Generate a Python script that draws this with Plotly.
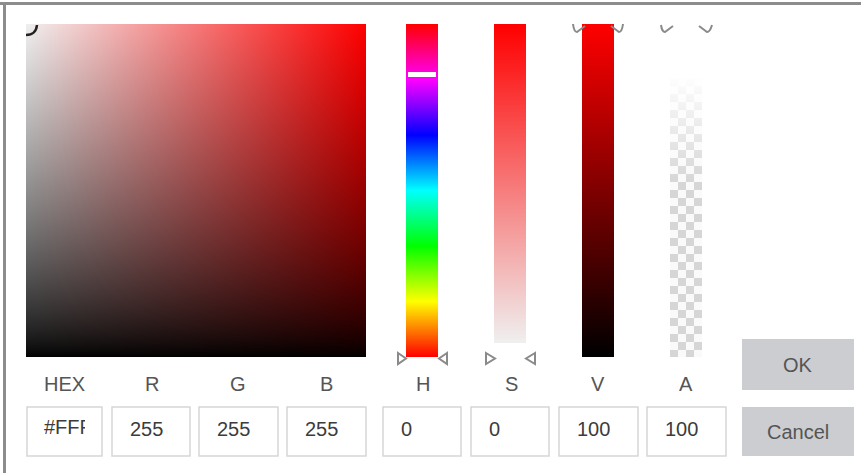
import numpy as np
import plotly.graph_objects as go

# ---------------- data ----------------
field_labels = ["HEX", "R", "G", "B", "H", "S", "V", "A"]
field_values = ["#FFFFFF", "255", "255", "255", "0", "0", "100", "100"]
button_labels = ["OK", "Cancel"]
current_hue = 0          # degrees
white_level = 240        # lightest tone shown in the gradients
value_gamma = 0.75       # brightness curve of the picker square

# ---------------- layout geometry (pixels) ----------------
W, H = 861, 473
sq = dict(x0=26, x1=366, y0=24, y1=357)
hue_bar = dict(x0=406, x1=438, y0=24, y1=357)
sat_bar = dict(x0=494, x1=526, y0=24, y1=343)
val_bar = dict(x0=582, x1=614, y0=24, y1=357)
alp_bar = dict(x0=670, x1=702, y0=78, y1=357)
label_x = [64, 152, 238, 326, 423, 511, 598, 686]
label_y = 384
box_x0 = [27, 112, 199, 287, 383, 471, 559, 647]
box_x1 = [102, 190, 278, 366, 461, 549, 638, 726]
box_y0, box_y1 = 407, 456
value_pad = 16
value_y = 429
btn_x0, btn_x1 = 742, 854
btn_y = [(339, 390), (407, 456)]
TEXT = "#555555"
FONT = "Liberation Sans, Arial, sans-serif"


def hsv_to_rgb(h, s, v):
    h = (h % 360) / 60.0
    c = v * s
    x = c * (1 - np.abs(h % 2 - 1))
    m = v - c
    z = np.zeros_like(h)
    idx = np.floor(h).astype(int) % 6
    r = np.choose(idx, [c, x, z, z, x, c])
    g = np.choose(idx, [x, c, c, x, z, z])
    b = np.choose(idx, [z, z, x, c, c, x])
    return np.stack([r + m, g + m, b + m], axis=-1)


fig = go.Figure()

# saturation / value square
nx, ny = sq["x1"] - sq["x0"], sq["y1"] - sq["y0"]
S = (np.arange(nx) + 0.5) / nx
V = (1 - (np.arange(ny) + 0.5) / ny) ** value_gamma
SS, VV = np.meshgrid(S, V)
rgb = np.zeros((ny, nx, 3))
rgb[..., 0] = VV * (255 - (255 - white_level) * (1 - SS))
rgb[..., 1] = VV * (1 - SS) * white_level
rgb[..., 2] = VV * (1 - SS) * white_level
fig.add_trace(go.Image(z=rgb.astype(np.uint8), x0=sq["x0"] + 0.5, y0=sq["y0"] + 0.5,
                       dx=1, dy=1, hoverinfo="skip"))

# hue bar
bh = hue_bar["y1"] - hue_bar["y0"]
bw = hue_bar["x1"] - hue_bar["x0"]
hues = current_hue + 360 * (1 - (np.arange(bh) + 0.5) / bh)
col = hsv_to_rgb(hues, np.ones(bh), np.ones(bh)) * 255
img = np.repeat(col[:, None, :], bw, axis=1)
fig.add_trace(go.Image(z=img.astype(np.uint8), x0=hue_bar["x0"] + 0.5, y0=hue_bar["y0"] + 0.5,
                       dx=1, dy=1, hoverinfo="skip"))

# saturation bar
bh = sat_bar["y1"] - sat_bar["y0"]
t = (np.arange(bh) + 0.5) / bh
col = np.stack([255 - t * (255 - white_level), t * white_level, t * white_level], axis=-1)
img = np.repeat(col[:, None, :], bw, axis=1)
fig.add_trace(go.Image(z=img.astype(np.uint8), x0=sat_bar["x0"] + 0.5, y0=sat_bar["y0"] + 0.5,
                       dx=1, dy=1, hoverinfo="skip"))

# value bar
bh = val_bar["y1"] - val_bar["y0"]
t = 1 - (np.arange(bh) + 0.5) / bh
col = np.stack([t * 255, t * 0, t * 0], axis=-1)
img = np.repeat(col[:, None, :], bw, axis=1)
fig.add_trace(go.Image(z=img.astype(np.uint8), x0=val_bar["x0"] + 0.5, y0=val_bar["y0"] + 0.5,
                       dx=1, dy=1, hoverinfo="skip"))

# alpha bar (checkerboard, fading in at the top)
bh = alp_bar["y1"] - alp_bar["y0"]
yy, xx = np.mgrid[0:bh, 0:bw]
checker = ((yy // 8 + xx // 8) % 2 == 0)
base = np.where(checker, 214.0, 250.0)
fade = np.clip((yy + 4) / 110.0, 0, 1)
val = 255 - (255 - base) * fade
img = np.repeat(val[..., None], 3, axis=2)
fig.add_trace(go.Image(z=img.astype(np.uint8), x0=alp_bar["x0"] + 0.5, y0=alp_bar["y0"] + 0.5,
                       dx=1, dy=1, hoverinfo="skip"))

shapes = []
# frame
shapes.append(dict(type="line", x0=0, x1=W, y0=3.5, y1=3.5, line=dict(color="#8c8c8c", width=3)))
shapes.append(dict(type="line", x0=4.5, x1=4.5, y0=2, y1=H, line=dict(color="#8c8c8c", width=3)))

# picker marker in the square
shapes.append(dict(type="path", path="M 37,25 Q 36,35 26,35",
                   line=dict(color="#222222", width=2.5)))
# hue marker
shapes.append(dict(type="rect", x0=408, x1=436, y0=72, y1=77, fillcolor="white", line=dict(width=0)))

ARW = dict(color="#8a8a8a", width=2)
# hue bar bottom arrows
shapes.append(dict(type="path", path="M 398,353 L 406,358.5 L 398,364 Z", line=ARW))
shapes.append(dict(type="path", path="M 447,353 L 439,358.5 L 447,364 Z", line=ARW))
# saturation bar bottom arrows
shapes.append(dict(type="path", path="M 486,353 L 495,358.5 L 486,364 Z", line=ARW))
shapes.append(dict(type="path", path="M 535,353 L 526,358.5 L 535,364 Z", line=ARW))
# value bar top arrows (clipped)
shapes.append(dict(type="path", path="M 573,24 Q 574,32 577,32 L 585,26", line=ARW))
shapes.append(dict(type="path", path="M 611,26 L 619,32 Q 622,32 623,24", line=ARW))
# alpha bar top arrows (clipped)
shapes.append(dict(type="path", path="M 661,25 Q 662,32 665,32 L 673,26", line=ARW))
shapes.append(dict(type="path", path="M 699,26 L 707,32 Q 710,32 712,25", line=ARW))

# input boxes
for x0, x1 in zip(box_x0, box_x1):
    shapes.append(dict(type="rect", x0=x0, x1=x1, y0=box_y0, y1=box_y1,
                       fillcolor="rgba(0,0,0,0)", line=dict(color="#d6d6d6", width=1.5)))
# buttons
for (y0, y1) in btn_y:
    shapes.append(dict(type="rect", x0=btn_x0, x1=btn_x1, y0=y0, y1=y1,
                       fillcolor="#cbcdd1", line=dict(width=0), layer="below"))

annotations = []
for lab, lx in zip(field_labels, label_x):
    annotations.append(dict(x=lx, y=label_y, xref="x", yref="y", text=lab, showarrow=False,
                            font=dict(family=FONT, size=20, color=TEXT),
                            xanchor="center", yanchor="middle"))
for v, x0 in list(zip(field_values, box_x0))[1:]:
    annotations.append(dict(x=x0 + value_pad, y=value_y, xref="x", yref="y", text=v, showarrow=False,
                            font=dict(family=FONT, size=20, color="#3c3c3c"),
                            xanchor="left", yanchor="middle"))
for lab, (y0, y1) in zip(button_labels, btn_y):
    annotations.append(dict(x=(btn_x0 + btn_x1) / 2, y=(y0 + y1) / 2, xref="x", yref="y", text=lab,
                            showarrow=False, font=dict(family=FONT, size=20, color=TEXT),
                            xanchor="center", yanchor="middle"))

# HEX value, clipped inside its input field (second subplot used as clip area)
clip_x0, clip_x1 = box_x0[0] + value_pad, box_x1[0] - 17
fig.add_trace(go.Scatter(x=[clip_x0 + 1], y=[value_y], mode="text", text=[field_values[0]],
                         textposition="middle right", cliponaxis=True,
                         textfont=dict(family=FONT, size=20, color="#3c3c3c"),
                         xaxis="x2", yaxis="y2", hoverinfo="skip", showlegend=False))

fig.update_layout(
    width=W, height=H, margin=dict(l=0, r=0, t=0, b=0),
    paper_bgcolor="white", plot_bgcolor="white", showlegend=False,
    xaxis=dict(range=[0, W], visible=False, fixedrange=True, domain=[0, 1]),
    yaxis=dict(range=[H, 0], visible=False, fixedrange=True, domain=[0, 1],
               scaleanchor="x", scaleratio=1),
    xaxis2=dict(range=[clip_x0, clip_x1], domain=[clip_x0 / W, clip_x1 / W],
                visible=False, fixedrange=True, anchor="y2"),
    yaxis2=dict(range=[box_y1, box_y0], domain=[1 - box_y1 / H, 1 - box_y0 / H],
                visible=False, fixedrange=True, anchor="x2"),
    shapes=shapes, annotations=annotations,
)
fig.write_html("out.html", config={"displayModeBar": False},
               post_script="document.body.style.margin='0';document.body.style.overflow='hidden';")
